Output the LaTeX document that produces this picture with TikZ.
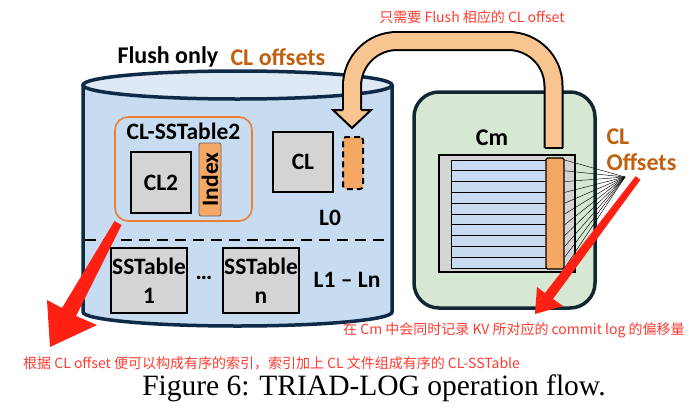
\documentclass[tikz,border=0pt]{standalone}
\usepackage{fontspec}
\setmainfont{Liberation Serif}
\newfontfamily\calibri{Carlito}
\newfontfamily\cjk{Noto Sans CJK SC}
\usetikzlibrary{positioning,calc}
\definecolor{cylNavy}{HTML}{0E2A47}
\definecolor{cylBlue}{HTML}{C7DCF0}
\definecolor{cylTop}{HTML}{DDE9F5}
\definecolor{boxGray}{HTML}{D4D4D4}
\definecolor{idxOrange}{HTML}{F5A864}
\definecolor{ringOrange}{HTML}{ED7D31}
\definecolor{txtBrown}{HTML}{C0600F}
\definecolor{cmGreen}{HTML}{D6E8D3}
\definecolor{cmEdge}{HTML}{10282F}
\definecolor{peach}{HTML}{F8C590}
\definecolor{noteRed}{HTML}{FF3B30}
\definecolor{arrowRed}{HTML}{FF2014}
\tikzset{
  every node/.style={font=\calibri\bfseries},
  cylline/.style={draw=cylNavy, line width=3.5pt},
  graybox/.style={draw=black, line width=1.3pt, fill=boxGray, inner sep=0pt, align=center},
  idxbox/.style={draw=black!60, line width=0.8pt, fill=idxOrange, rounded corners=2pt, inner sep=0pt},
  ring/.style={draw=ringOrange, line width=1.6pt, rounded corners=13pt},
  bigtxt/.style={font=\calibri\bfseries\fontsize{24}{26}\selectfont},
  lvl/.style={font=\calibri\bfseries\fontsize{23.5}{25}\selectfont},
  boxtxt/.style={font=\calibri\bfseries\fontsize{23.5}{29}\selectfont},
  note/.style={font=\cjk\fontsize{14}{16}\selectfont, text=noteRed, inner sep=0pt},
  rowbar/.style={draw=black, line width=0.7pt, fill=cylBlue},
  redarrow/.style={fill=arrowRed},
}

\begin{document}
\begin{tikzpicture}[x=1pt, y=-1pt]
  \useasboundingbox (0,0) rectangle (694,418);

  % ── Cylinder (storage) ──
  \fill[cylBlue] (83,85) -- (83,312) arc[start angle=180, end angle=0, x radius=154.5, y radius=14] -- (392,85) -- cycle;
  \draw[cylline] (83,85) -- (83,312) arc[start angle=180, end angle=0, x radius=154.5, y radius=14] -- (392,85);
  \draw[cylline, fill=cylTop] (237.5,85) ellipse[x radius=154.5, y radius=14];
  \draw[black, line width=2.4pt, dash pattern=on 11pt off 7pt] (85,240) -- (390,240);

  \node[bigtxt, anchor=west] (flushlbl) at (114,57) {Flush only};
  \node[bigtxt, text=txtBrown, anchor=west] (offlbl) at (227,57) {CL offsets};

  % ── L0: CL-SSTable2, CL ──
  \node[ring, minimum width=137pt, minimum height=104pt] (clsst) at (183.5,169) {};
  \node[lvl, below=3pt of clsst.north] (clsstlbl) {CL-SSTable2};
  \node[graybox, boxtxt, minimum width=60pt, minimum height=61pt] (cltwo) at (161,182.5) {CL2};
  \node[idxbox, minimum width=22pt, minimum height=73pt] (index) at (210,179.5) {};
  \node[lvl, rotate=90] at (index.center) {Index};
  \node[graybox, boxtxt, minimum width=60pt, minimum height=60pt] (cl) at (303,162) {CL};
  \node[idxbox, draw=black, line width=2pt, dash pattern=on 6pt off 4pt, rounded corners=3pt,
        minimum width=20pt, minimum height=52pt] (newoff) at (353,163) {};
  \node[lvl] (lzero) at (330,218) {L0};

  % ── L1 - Ln ──
  \node[graybox, boxtxt, minimum width=76pt, minimum height=65pt] (sstone) at (149,280.5) {SSTable\\1};
  \node[boxtxt] (dots) at (204,278) {\dots};
  \node[graybox, boxtxt, minimum width=76pt, minimum height=65pt] (sstn) at (261,280.5) {SSTable\\n};
  \node[lvl] (lrest) at (347,280) {L1 – Ln};

  % ── Cm (memtable) ──
  \node[draw=cmEdge, line width=3.5pt, fill=cmGreen, rounded corners=25pt,
        minimum width=181pt, minimum height=216pt] (cm) at (504.5,200) {};
  \node[bigtxt] (cmlbl) at (492,138) {Cm};
  \node[draw=black, line width=1.2pt, fill=boxGray, minimum width=136pt, minimum height=117pt] (cmtab) at (507,213.5) {};
  \foreach \i in {0,...,9} {
    \draw[rowbar] (451,{160+10.8*\i}) rectangle (552,{160+10.8*(\i+1)});
  }
  \node[draw=black, line width=1.3pt, fill=idxOrange, rounded corners=1.5pt,
        minimum width=18pt, minimum height=111pt] (clbar) at (555,213.5) {};
  \coordinate (fantip) at (625,177);
  \foreach \i in {0,...,10} {
    \draw[black, line width=0.45pt] (clbar.east |- {(0,160+10.8*\i)}) -- (fantip);
  }
  \node[font=\calibri\bfseries\fontsize{24}{26}\selectfont, text=txtBrown, align=left, anchor=west] (cloff) at (603,150) {CL\\Offsets};

  % ── Flush arrow: Cm -> L0 ──
  \coordinate (arrstart) at (553.5,148);
  \coordinate (arrtop) at (0,41);
  \coordinate (arrend) at (352,110);
  \draw[line width=2pt, double=peach, double distance=16pt, rounded corners=45pt]
    (arrstart) -- (arrstart |- arrtop) -- (arrend |- arrtop) -- (arrend);
  \draw[line width=2pt] (544.5,148) -- (562.5,148);
  \fill[peach] (333,110) -- (371,110) -- (352,128) -- cycle;
  \draw[line width=2pt, line join=miter] (343,110) -- (333,110) -- (352,128) -- (371,110) -- (361,110);

  % ── Red annotation arrows ──
  \fill[redarrow] (114.5,221) -- (62,308) -- (47,300) -- (50,347) -- (97,325) -- (76,316) -- (121.5,225) -- cycle;
  \fill[redarrow] (635.6,176.2) -- (545,293) -- (537,287) -- (535,314) -- (563,306) -- (553,299) -- (640.4,179.8) -- cycle;

  % ── Notes ──
  \node[note] (notetop) at (472,17) {只需要 Flush 相应的 CL offset};
  \node[note, anchor=west] (notecm) at (343,330) {在 Cm 中会同时记录 KV 所对应的 commit log 的偏移量};
  \node[note, anchor=west] (notesst) at (23,363) {根据 CL offset 便可以构成有序的索引，索引加上 CL 文件组成有序的 CL-SSTable};

  % ── Caption ──
  \node[font=\rmfamily\fontsize{29.5}{31}\selectfont] (caption) at (374,388) {Figure 6: TRIAD-LOG operation flow.};
\end{tikzpicture}
\end{document}
